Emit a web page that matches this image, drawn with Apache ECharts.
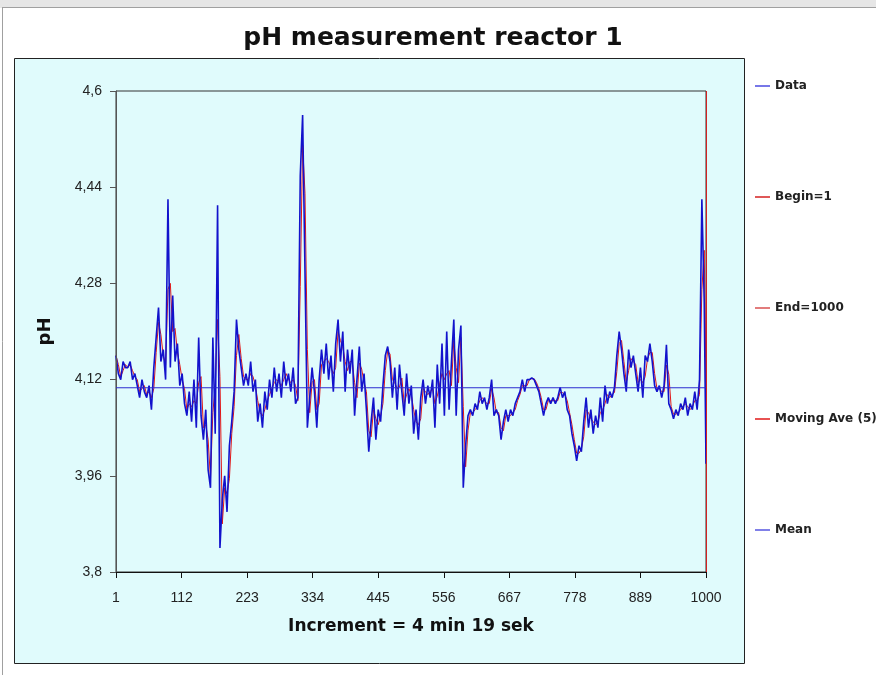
<!DOCTYPE html>
<html>
<head>
<meta charset="utf-8">
<script src="https://cdn.jsdelivr.net/npm/echarts@6/dist/echarts.min.js"></script>
<style>
  html, body { margin: 0; padding: 0; background: #fff; }
  #chart { width: 876px; height: 675px; }
</style>
</head>
<body>
<div id="chart"></div>
<script>
// pH readings, one every 4th increment starting at increment 1
const sampleStart = 1;
const sampleStep = 4;
const phValues = [
  4.16, 4.13, 4.12, 4.15, 4.14,   4.14, 4.15, 4.12, 4.13, 4.11,
  4.09, 4.12, 4.10, 4.09, 4.11,   4.07, 4.14, 4.19, 4.24, 4.15,
  4.17, 4.12, 4.42, 4.14, 4.26,   4.15, 4.18, 4.11, 4.13, 4.08,
  4.06, 4.10, 4.05, 4.12, 4.04,   4.19, 4.06, 4.02, 4.07, 3.97,
  3.94, 4.19, 4.03, 4.41, 3.84,   3.92, 3.96, 3.90, 4.01, 4.05,
  4.10, 4.22, 4.17, 4.14, 4.11,   4.13, 4.11, 4.15, 4.10, 4.12,
  4.05, 4.08, 4.04, 4.10, 4.07,   4.12, 4.09, 4.14, 4.10, 4.13,
  4.09, 4.15, 4.11, 4.13, 4.10,   4.14, 4.08, 4.09, 4.46, 4.56,
  4.30, 4.04, 4.09, 4.14, 4.10,   4.04, 4.12, 4.17, 4.13, 4.18,
  4.12, 4.16, 4.10, 4.18, 4.22,   4.15, 4.20, 4.10, 4.17, 4.13,
  4.17, 4.06, 4.12, 4.175, 4.10,  4.13, 4.07, 4.00, 4.05, 4.09,
  4.02, 4.07, 4.05, 4.11, 4.16,   4.175, 4.15, 4.09, 4.14, 4.07,
  4.145, 4.10, 4.06, 4.13, 4.08,  4.11, 4.03, 4.07, 4.02, 4.09,
  4.12, 4.08, 4.11, 4.09, 4.12,   4.04, 4.145, 4.08, 4.18, 4.06,
  4.20, 4.07, 4.15, 4.22, 4.06,   4.17, 4.21, 3.94, 4.01, 4.06,
  4.07, 4.06, 4.08, 4.07, 4.10,   4.08, 4.09, 4.07, 4.09, 4.12,
  4.06, 4.07, 4.06, 4.02, 4.05,   4.07, 4.05, 4.07, 4.06, 4.08,
  4.09, 4.10, 4.12, 4.10, 4.12,   4.12, 4.123, 4.12, 4.11, 4.10,
  4.08, 4.06, 4.08, 4.09, 4.08,   4.09, 4.08, 4.09, 4.107, 4.09,
  4.10, 4.07, 4.06, 4.03, 4.01,   3.985, 4.01, 4.00, 4.05, 4.09,
  4.04, 4.07, 4.03, 4.06, 4.04,   4.09, 4.05, 4.11, 4.08, 4.10,
  4.09, 4.107, 4.16, 4.20, 4.17,  4.13, 4.10, 4.17, 4.14, 4.16,
  4.13, 4.10, 4.14, 4.09, 4.16,   4.15, 4.18, 4.15, 4.11, 4.10,
  4.11, 4.09, 4.11, 4.178, 4.08,  4.07, 4.055, 4.07, 4.06, 4.08,
  4.07, 4.09, 4.06, 4.08, 4.07,   4.10, 4.07, 4.12, 4.42, 4.25
];
const lastSample = 1000;
const lastValue = 3.98;

const beginSample = 1;
const endSample = 1000;
const maWindow = 5;

const xTickStep = 111;
const yTickLabels = ['3,8', '3,96', '4,12', '4,28', '4,44', '4,6'];
const phMin = 3.8, phMax = 4.6;

const legendNames = ['Data', 'Begin=1', 'End=1000', 'Moving Ave (5)', 'Mean'];

// build [increment, pH] pairs
const dataPoints = phValues.map((v, i) => [sampleStart + i * sampleStep, v]);
dataPoints.push([lastSample, lastValue]);

// moving average over the readings inside the last 5 increments
const maPoints = dataPoints.map((p, i) => {
  let sum = 0, n = 0;
  for (let j = i; j >= 0 && dataPoints[j][0] > p[0] - maWindow; j--) { sum += dataPoints[j][1]; n++; }
  return [p[0], +(sum / n).toFixed(4)];
});

const mean = dataPoints.reduce((s, p) => s + p[1], 0) / dataPoints.length;

const font = '"Liberation Sans", Arial, sans-serif';
const wideFont = '"DejaVu Sans", Verdana, sans-serif';
const chart = echarts.init(document.getElementById('chart'));

chart.setOption({
  backgroundColor: '#ffffff',
  animation: false,
  graphic: [
    { type: 'rect', z: -20, shape: { x: 0, y: 0, width: 876, height: 8 }, style: { fill: '#e6e6e6' } },
    { type: 'line', z: -20, shape: { x1: 2, y1: 7.5, x2: 876, y2: 7.5 }, style: { stroke: '#a0a0a0', lineWidth: 1 } },
    { type: 'line', z: -20, shape: { x1: 2.5, y1: 8, x2: 2.5, y2: 675 }, style: { stroke: '#a0a0a0', lineWidth: 1 } },
    { type: 'rect', z: -19, shape: { x: 14.5, y: 58.5, width: 730, height: 605 },
      style: { fill: '#e0fbfc', stroke: '#222', lineWidth: 1 } }
  ],
  title: {
    text: 'pH measurement reactor 1',
    left: 428, top: 21, textAlign: 'center',
    textStyle: { fontFamily: wideFont, fontWeight: 'bold', fontSize: 25, color: '#111' }
  },
  legend: {
    data: legendNames,
    orient: 'vertical',
    left: 750, top: 75,
    itemGap: 99,
    icon: 'rect',
    itemWidth: 15, itemHeight: 1.5,
    selectedMode: false,
    textStyle: { fontFamily: wideFont, fontWeight: 'bold', fontSize: 12, color: '#222' }
  },
  grid: {
    left: 116, top: 91, width: 590, height: 481,
    show: true, borderColor: '#333', borderWidth: 1, backgroundColor: 'transparent'
  },
  xAxis: {
    type: 'value', min: 1, max: 1000, interval: xTickStep,
    name: 'Increment = 4 min 19 sek', nameLocation: 'middle', nameGap: 46,
    nameTextStyle: { fontFamily: wideFont, fontWeight: 'bold', fontSize: 17, color: '#111' },
    axisLine: { lineStyle: { color: '#111', width: 1 } },
    axisTick: { show: true, length: 6, lineStyle: { color: '#111' } },
    axisLabel: { fontFamily: font, fontSize: 14, color: '#222', margin: 19,
      formatter: v => String(v) },
    splitLine: { show: false }
  },
  yAxis: [
    {
      type: 'value', min: 0, max: yTickLabels.length - 1, interval: 1,
      name: 'pH', nameLocation: 'middle', nameGap: 62, nameRotate: 90,
      nameTextStyle: { fontFamily: wideFont, fontWeight: 'bold', fontSize: 18, color: '#111' },
      axisLine: { show: true, lineStyle: { color: '#555', width: 1 } },
      axisTick: { show: true, length: 6, lineStyle: { color: '#555' } },
      axisLabel: { fontFamily: font, fontSize: 14, color: '#222', margin: 14,
        formatter: v => yTickLabels[v] },
      splitLine: { show: false }
    },
    { type: 'value', min: phMin, max: phMax, show: false }
  ],
  series: [
    {
      name: 'Moving Ave (5)', type: 'line', yAxisIndex: 1, z: 3,
      data: maPoints, showSymbol: false, symbol: 'none',
      itemStyle: { color: '#e01818' },
      lineStyle: { color: '#e01818', width: 1 }
    },
    {
      name: 'Data', type: 'line', yAxisIndex: 1, z: 4,
      data: dataPoints, showSymbol: false, symbol: 'none',
      itemStyle: { color: '#4a4ae0' },
      lineStyle: { color: '#1212cc', width: 1.6 }
    },
    {
      name: 'Mean', type: 'line', yAxisIndex: 1, z: 5,
      data: [[1, mean], [1000, mean]], showSymbol: false, symbol: 'none',
      itemStyle: { color: '#5656e0' },
      lineStyle: { color: '#2a2ad0', width: 1 }
    },
    {
      name: 'Begin=1', type: 'line', yAxisIndex: 1, z: 1, data: [],
      itemStyle: { color: '#d42020' },
      markLine: { silent: true, symbol: 'none', label: { show: false },
        lineStyle: { color: '#555', type: 'solid', width: 1 },
        data: [{ xAxis: beginSample }] }
    },
    {
      name: 'End=1000', type: 'line', yAxisIndex: 1, z: 6, data: [],
      itemStyle: { color: '#d85050' },
      markLine: { silent: true, symbol: 'none', label: { show: false },
        lineStyle: { color: '#d42020', type: 'solid', width: 1 },
        data: [{ xAxis: endSample }] }
    }
  ]
});
</script>
</body>
</html>
